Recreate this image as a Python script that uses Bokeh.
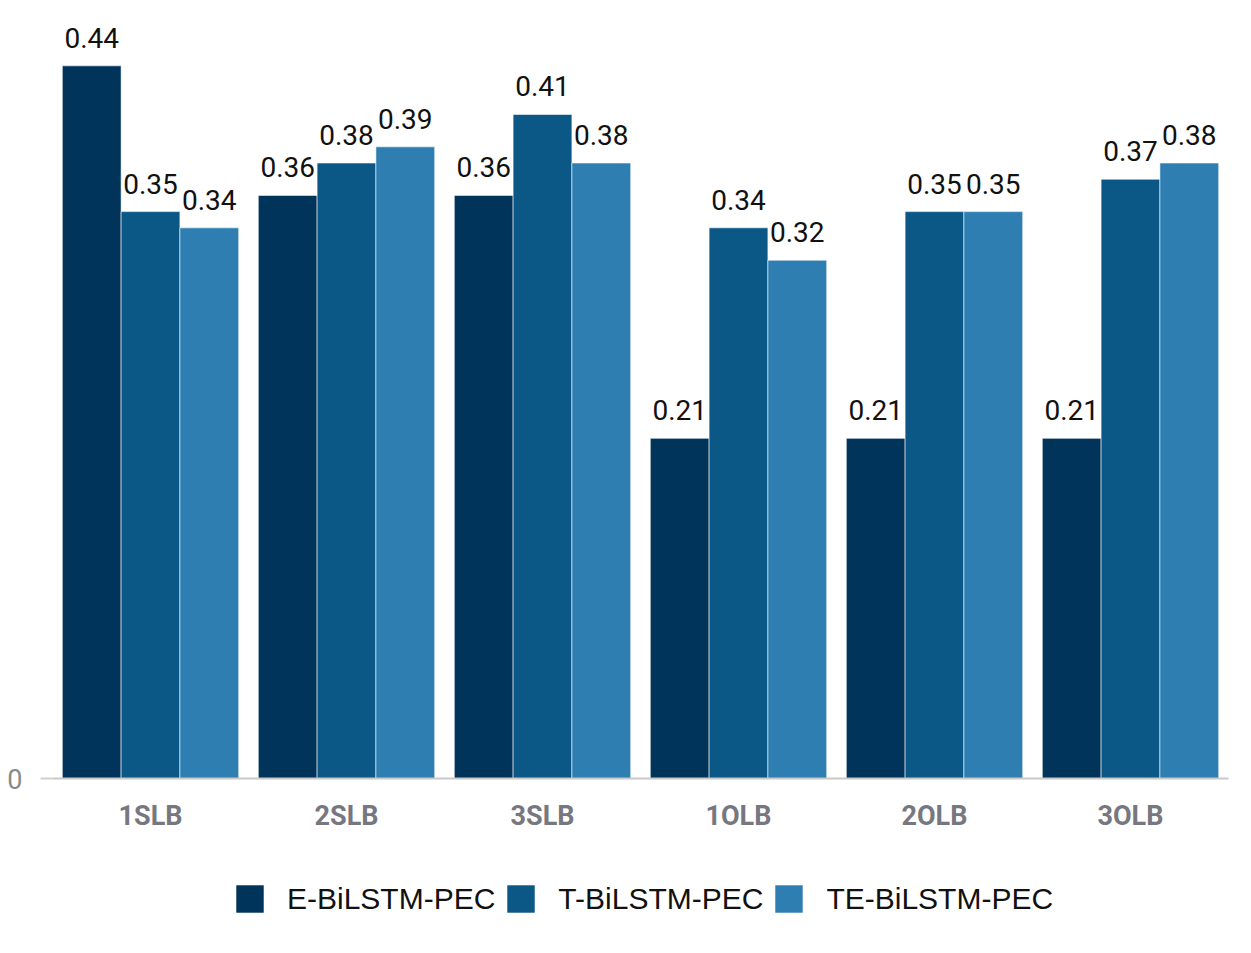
from bokeh.plotting import figure
from bokeh.layouts import column
from bokeh.models import ColumnDataSource, FactorRange, Range1d, FixedTicker, Legend, LegendItem
from bokeh.transform import dodge
from bokeh.core.properties import value
from bokeh.embed import file_html
from bokeh.resources import INLINE

categories = ["1SLB", "2SLB", "3SLB", "1OLB", "2OLB", "3OLB"]
series_names = ["E-BiLSTM-PEC", "T-BiLSTM-PEC", "TE-BiLSTM-PEC"]
e_vals = [0.44, 0.36, 0.36, 0.21, 0.21, 0.21]
t_vals = [0.35, 0.38, 0.41, 0.34, 0.35, 0.37]
te_vals = [0.34, 0.39, 0.38, 0.32, 0.35, 0.38]
colors = ["#00345b", "#0b5786", "#2e7eb1"]

src = ColumnDataSource(dict(
    cat=categories,
    e=e_vals, t=t_vals, te=te_vals,
    e_lbl=[f"{v:.2f}" for v in e_vals],
    t_lbl=[f"{v:.2f}" for v in t_vals],
    te_lbl=[f"{v:.2f}" for v in te_vals],
))

p = figure(width=1235, height=850, output_backend="svg", toolbar_location=None,
           x_range=FactorRange(*categories, range_padding=0),
           y_range=Range1d(0, 0.468),
           min_border_left=52, min_border_right=7, min_border_top=20, min_border_bottom=72)
p.x_range.factor_padding = 0
p.outline_line_color = None
p.xgrid.visible = False
p.ygrid.visible = False

for key, off, col in zip(["e", "t", "te"], [-0.3, 0.0, 0.3], colors):
    p.vbar(x=dodge("cat", off, range=p.x_range), top=key, width=0.3, source=src,
           fill_color=col, line_color="white", line_width=0.8, line_alpha=0.7)
    p.text(x=dodge("cat", off, range=p.x_range), y=key, text=key + "_lbl", source=src,
           text_align="center", text_baseline="alphabetic", y_offset=-28,
           text_font=value("Roboto"), text_font_size="28px", text_color="#111111")

xa = p.xaxis[0]
xa.axis_line_color = "#c8c8c8"
xa.axis_line_width = 2
xa.major_tick_line_color = None
xa.minor_tick_line_color = None
xa.major_label_standoff = 15
xa.major_label_text_font = "Roboto"
xa.major_label_text_font_style = "bold"
xa.major_label_text_font_size = "27px"
xa.major_label_text_color = "#76777f"

ya = p.yaxis[0]
ya.ticker = FixedTicker(ticks=[0])
ya.axis_line_color = None
ya.major_tick_line_color = "#d0d0d0"
ya.major_tick_line_width = 2
ya.major_tick_out = 12
ya.major_tick_in = 0
ya.minor_tick_line_color = None
ya.major_label_standoff = 18
ya.major_label_text_font = "Roboto"
ya.major_label_text_font_size = "27px"
ya.major_label_text_color = "#8a8a8a"

# legend strip below the chart
lg = figure(width=1235, height=87, output_backend="svg", toolbar_location=None,
            x_range=Range1d(0, 1), y_range=Range1d(0, 1),
            x_axis_location=None, y_axis_location=None,
            min_border_left=0, min_border_right=0, min_border_top=0, min_border_bottom=0)
lg.grid.visible = False
lg.outline_line_color = None
leg_src = ColumnDataSource(dict(x=[-10.0], top=[-10.0]))
leg_renderers = [lg.vbar(x="x", top="top", width=0.1, source=leg_src, fill_color=c,
                         line_color="white", line_width=0.8, line_alpha=0.7) for c in colors]
legend = Legend(items=[LegendItem(label=n, renderers=[r]) for n, r in zip(series_names, leg_renderers)],
                orientation="horizontal", location=(180, 21),
                glyph_width=35, glyph_height=35, label_standoff=20, spacing=8,
                label_text_font="Liberation Sans", label_text_font_size="30px",
                label_text_color="#111111", border_line_color=None, background_fill_alpha=0,
                padding=0, margin=0)
lg.add_layout(legend, "center")

layout = column(p, lg, spacing=0)
open("out.html", "w").write(file_html(layout, INLINE))
